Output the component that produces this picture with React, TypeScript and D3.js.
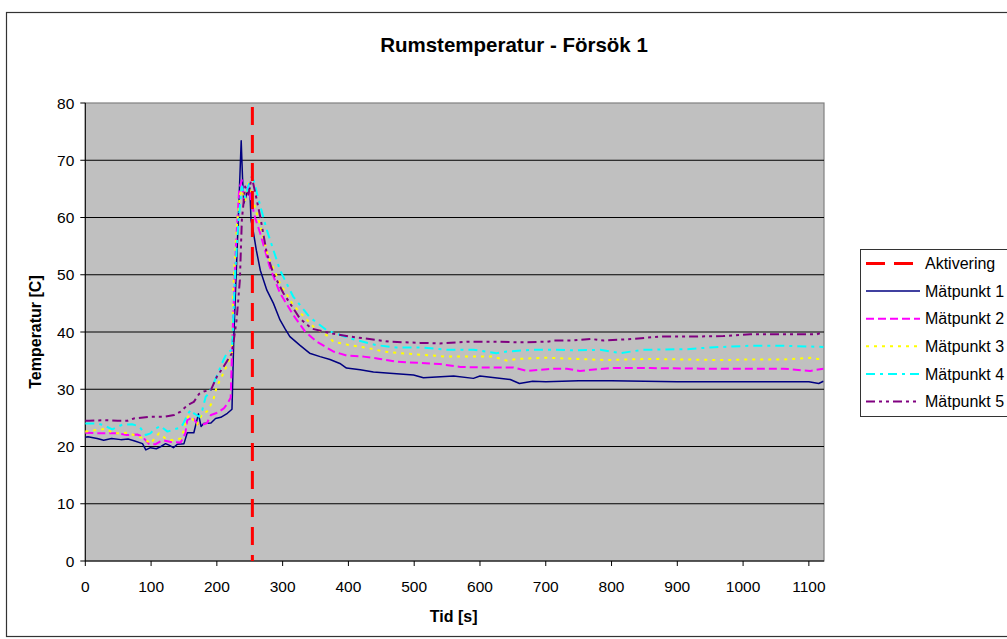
import React from "react";
import * as d3 from "d3";

const title = "Rumstemperatur - Försök 1";
const xTitle = "Tid [s]";
const yTitle = "Temperatur [C]";
const xTicks = [0, 100, 200, 300, 400, 500, 600, 700, 800, 900, 1000, 1100];
const yTicks = [0, 10, 20, 30, 40, 50, 60, 70, 80];
const activation = [254];

const t1 = [0, 4, 18, 28, 40, 54, 65, 74, 87, 92, 99, 108, 115, 122, 128, 134, 140, 150, 155, 165, 172, 176, 180, 191, 198, 206, 216, 223, 226, 231, 234, 237, 239, 241, 244, 247, 250, 252, 255, 260, 266, 276, 286, 296, 304, 311, 326, 341, 357, 372, 387, 397, 418, 438, 463, 499, 514, 560, 590, 600, 646, 660, 680, 700, 750, 800, 850, 900, 950, 1000, 1050, 1100, 1115, 1122];
const v1 = [21.6, 21.7, 21.4, 21.1, 21.4, 21.2, 21.3, 21.0, 20.5, 19.4, 19.8, 19.6, 20.0, 20.5, 20.2, 19.8, 20.4, 20.5, 22.4, 22.4, 25.7, 23.5, 24.0, 24.1, 24.9, 25.1, 25.8, 26.5, 40.0, 55.0, 64.0, 73.4, 67.0, 62.5, 63.5, 65.0, 65.2, 59.5, 57.8, 54.3, 50.8, 47.3, 45.0, 42.1, 40.5, 39.2, 37.7, 36.3, 35.7, 35.2, 34.5, 33.7, 33.4, 33.0, 32.8, 32.5, 32.0, 32.3, 31.9, 32.3, 31.7, 31.0, 31.4, 31.3, 31.5, 31.5, 31.4, 31.3, 31.3, 31.3, 31.3, 31.3, 31.0, 31.4];

const t2 = [0, 28, 48, 63, 79, 87, 97, 107, 117, 130, 145, 152, 155, 163, 170, 178, 185, 191, 201, 211, 216, 221, 224, 229, 234, 238, 241, 244, 248, 252, 258, 266, 280, 296, 316, 334, 352, 377, 397, 423, 448, 473, 509, 539, 570, 610, 651, 671, 702, 717, 732, 752, 798, 859, 935, 1011, 1061, 1102, 1122];
const v2 = [22.4, 22.3, 22.3, 22.0, 22.1, 21.7, 20.4, 20.4, 21.1, 20.8, 20.7, 22.3, 24.6, 25.1, 24.0, 23.8, 24.1, 25.5, 25.9, 26.7, 27.5, 28.5, 40.0, 55.0, 65.0, 66.5, 63.0, 64.0, 65.5, 63.0, 60.0, 57.2, 51.5, 46.8, 43.0, 40.1, 38.3, 36.6, 35.9, 35.7, 35.3, 34.8, 34.6, 34.4, 33.9, 33.8, 33.8, 33.2, 33.5, 33.6, 33.6, 33.2, 33.7, 33.7, 33.6, 33.6, 33.6, 33.2, 33.6];

const t3 = [0, 31, 44, 64, 89, 99, 112, 122, 132, 145, 150, 153, 158, 170, 178, 185, 190, 195, 200, 210, 223, 225, 230, 235, 238, 243, 248, 255, 265, 278, 296, 316, 347, 370, 377, 402, 430, 453, 478, 514, 550, 580, 620, 641, 656, 702, 748, 790, 859, 970, 1011, 1061, 1102, 1114, 1122];
const v3 = [22.6, 23.1, 22.3, 22.4, 21.4, 20.5, 22.3, 21.4, 21.1, 21.4, 22.9, 24.6, 25.5, 23.8, 25.8, 26.1, 27.1, 28.3, 30.5, 32.8, 36.3, 47.9, 58.0, 64.0, 64.8, 63.0, 66.0, 63.0, 59.0, 53.2, 48.5, 44.7, 40.9, 39.2, 38.3, 37.7, 37.2, 36.6, 36.3, 36.0, 35.7, 35.7, 35.7, 35.0, 35.3, 35.5, 35.3, 35.1, 35.3, 35.1, 35.2, 35.2, 35.5, 35.3, 35.3];

const t4 = [0, 4, 18, 26, 41, 56, 71, 82, 92, 99, 104, 114, 125, 135, 145, 149, 155, 160, 165, 173, 178, 183, 188, 195, 210, 215, 223, 228, 233, 238, 243, 250, 256, 266, 276, 296, 316, 341, 367, 402, 443, 473, 509, 550, 590, 625, 641, 681, 712, 747, 783, 813, 848, 915, 950, 1011, 1061, 1122];
const v4 = [24.0, 24.0, 24.0, 23.8, 23.0, 23.8, 23.9, 23.5, 22.0, 22.3, 22.9, 23.6, 22.6, 23.0, 23.3, 24.0, 25.5, 26.4, 25.8, 25.2, 26.4, 28.7, 29.3, 31.0, 35.1, 36.3, 36.9, 50.8, 59.6, 65.4, 63.5, 66.3, 66.5, 62.0, 57.8, 50.8, 46.2, 42.6, 40.3, 38.9, 37.7, 37.3, 37.3, 36.9, 36.9, 36.3, 36.6, 36.9, 36.9, 36.8, 36.9, 36.3, 36.9, 37.0, 37.3, 37.6, 37.6, 37.4];

const t5 = [0, 6, 28, 49, 64, 74, 99, 120, 135, 145, 155, 165, 173, 180, 191, 200, 210, 223, 230, 235, 238, 243, 248, 253, 259, 266, 276, 286, 301, 326, 344, 372, 402, 423, 463, 509, 539, 580, 626, 661, 702, 712, 740, 768, 788, 833, 874, 920, 970, 1011, 1061, 1112, 1122];
const v5 = [24.5, 24.5, 24.6, 24.5, 24.5, 24.9, 25.2, 25.2, 25.5, 26.1, 27.2, 27.8, 29.2, 29.6, 29.9, 32.2, 33.9, 36.3, 42.1, 49.1, 59.6, 65.4, 64.0, 67.1, 64.0, 60.1, 53.7, 50.2, 46.8, 42.4, 40.6, 39.8, 39.2, 38.9, 38.3, 38.1, 38.0, 38.3, 38.3, 38.2, 38.3, 38.5, 38.5, 38.8, 38.5, 38.8, 39.2, 39.2, 39.3, 39.6, 39.6, 39.6, 40.0];

const seriesNames = ["Mätpunkt 1", "Mätpunkt 2", "Mätpunkt 3", "Mätpunkt 4", "Mätpunkt 5"];
const seriesT = [t1, t2, t3, t4, t5];
const seriesV = [v1, v2, v3, v4, v5];
const seriesColor = ["#000080", "#FF00FF", "#FFFF00", "#00FFFF", "#800080"];
const seriesDash = ["", "8,4", "3,5", "9,5,3,5", "9,4,3,4,3,4"];
const seriesWidth = [1.5, 2, 2, 2, 2];

const FONT = "'Liberation Sans', Arial, sans-serif";

export default function App() {
  const L = 85.3, R = 824, T = 103, B = 561;
  const x = d3.scaleLinear().domain([0, 1123]).range([L, R]);
  const y = d3.scaleLinear().domain([0, 80]).range([B, T]);
  const line = d3
    .line<[number, number]>()
    .x((d) => x(d[0]))
    .y((d) => y(d[1]));

  const legendItems = [
    { name: "Aktivering", color: "#FF0000", dash: "19,9", width: 3 },
    ...seriesNames.map((n, i) => ({ name: n, color: seriesColor[i], dash: seriesDash[i], width: seriesWidth[i] })),
  ];

  return (
    <svg width={1007} height={639} style={{ position: "absolute", left: 0, top: 0, background: "#fff" }} fontFamily={FONT}>
      <rect x={6.5} y={12.5} width={1040} height={624} fill="#fff" stroke="#333" strokeWidth={1.2} />
      <text x={514} y={52} textAnchor="middle" fontSize={20.5} fontWeight="bold">{title}</text>

      <rect x={L} y={T} width={R - L} height={B - T} fill="#C0C0C0" stroke="#808080" strokeWidth={1.2} />
      {yTicks.filter((v) => v > 0 && v < 80).map((v) => (
        <line key={"g" + v} x1={L} x2={R} y1={y(v)} y2={y(v)} stroke="#000" strokeWidth={1} />
      ))}
      <line x1={L} x2={L} y1={T} y2={B} stroke="#000" strokeWidth={1} />
      <line x1={L} x2={R} y1={B} y2={B} stroke="#000" strokeWidth={1} />
      {yTicks.map((v) => (
        <g key={"y" + v}>
          <line x1={L - 5} x2={L} y1={y(v)} y2={y(v)} stroke="#000" />
          <text x={L - 11} y={y(v)} dy="0.36em" textAnchor="end" fontSize={15.5}>{v}</text>
        </g>
      ))}
      {xTicks.map((v) => (
        <g key={"x" + v}>
          <line x1={x(v)} x2={x(v)} y1={B} y2={B + 5} stroke="#000" />
          <text x={x(v)} y={B + 31} textAnchor="middle" fontSize={15.5}>{v}</text>
        </g>
      ))}
      <text x={x(560)} y={622} textAnchor="middle" fontSize={16} fontWeight="bold">{xTitle}</text>
      <text transform={`translate(41,${(T + B) / 2}) rotate(-90)`} textAnchor="middle" fontSize={16} fontWeight="bold">{yTitle}</text>

      {seriesT.map((ts, i) => (
        <path
          key={"s" + i}
          d={line(ts.map((t, j) => [t, seriesV[i][j]] as [number, number])) || ""}
          fill="none"
          stroke={seriesColor[i]}
          strokeWidth={seriesWidth[i]}
          strokeDasharray={seriesDash[i] || undefined}
          strokeLinejoin="round"
        />
      ))}
      {activation.map((a) => (
        <line key={"a" + a} x1={x(a)} x2={x(a)} y1={T + 4} y2={B} stroke="#FF0000" strokeWidth={3} strokeDasharray="18,10" />
      ))}

      <rect x={860.5} y={249.5} width={200} height={167} fill="#fff" stroke="#333" strokeWidth={1} />
      {legendItems.map((it, i) => {
        const ly = 263.5 + i * 27.6;
        return (
          <g key={"l" + i}>
            <line x1={866} x2={920} y1={ly} y2={ly} stroke={it.color} strokeWidth={it.width} strokeDasharray={it.dash || undefined} />
            <text x={925} y={ly} dy="0.36em" fontSize={16}>{it.name}</text>
          </g>
        );
      })}
    </svg>
  );
}
